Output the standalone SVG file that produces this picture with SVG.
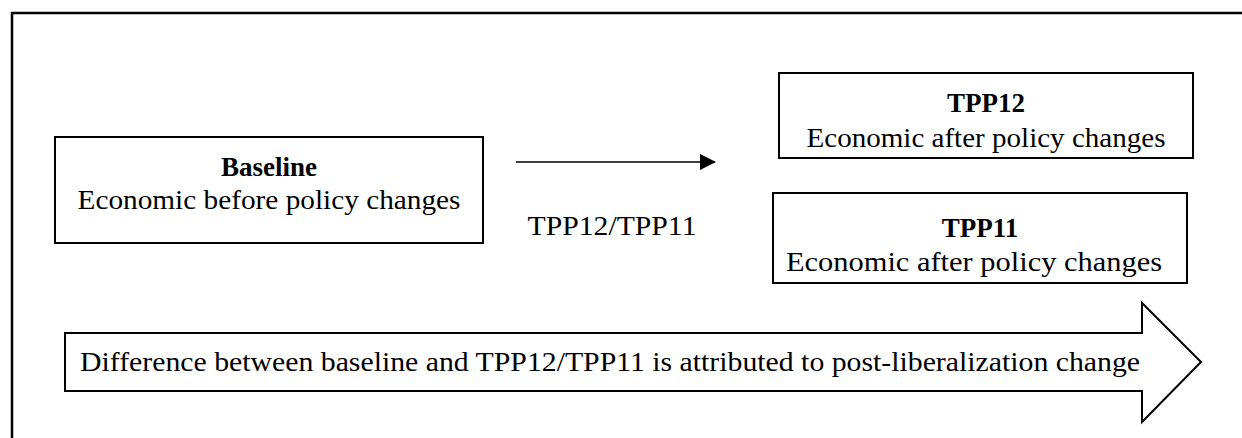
<svg xmlns="http://www.w3.org/2000/svg" width="1242" height="438" viewBox="0 0 1242 438">
<style>
.box{fill:#fff;stroke:#000;stroke-width:2}
.t{font-family:'Liberation Serif','DejaVu Serif',serif;font-size:27px;fill:#000;text-anchor:middle}
.b{font-weight:bold}
</style>
<defs>
<marker id="ah" markerWidth="16" markerHeight="16" refX="15" refY="8" orient="auto" markerUnits="userSpaceOnUse">
<path d="M0,0 L16,8 L0,16 Z" fill="#000"/>
</marker>
<clipPath id="c12"><rect x="780" y="74" width="412" height="79"/></clipPath>
</defs>
<rect width="1242" height="438" fill="#fff"/>
<path d="M12,438 V13 H1242" fill="none" stroke="#000" stroke-width="2.5"/>
<g id="baseline">
<rect class="box" x="55" y="137" width="428" height="106"/>
<text class="t b" x="269" y="176" font-family="Liberation Serif">Baseline</text>
<text class="t" x="269" y="209" font-family="Liberation Serif" textLength="383" lengthAdjust="spacingAndGlyphs">Economic before policy changes</text>
</g>
<g id="tpp12">
<rect class="box" x="779" y="73" width="414" height="85"/>
<g clip-path="url(#c12)">
<text class="t b" x="986" y="112" font-family="Liberation Serif">TPP12</text>
<text class="t" x="986" y="147" font-family="Liberation Serif" textLength="359" lengthAdjust="spacingAndGlyphs">Economic after policy changes</text>
</g>
</g>
<g id="tpp11">
<rect class="box" x="773" y="193" width="414" height="90"/>
<text class="t b" x="980" y="237" font-family="Liberation Serif">TPP11</text>
<text class="t" x="974" y="271" font-family="Liberation Serif" textLength="376" lengthAdjust="spacingAndGlyphs">Economic after policy changes</text>
</g>
<g id="connectors">
<line x1="516" y1="162" x2="715" y2="162" stroke="#000" stroke-width="1.5" marker-end="url(#ah)"/>
<text class="t" x="612" y="235" font-family="Liberation Serif" textLength="169" lengthAdjust="spacingAndGlyphs">TPP12/TPP11</text>
</g>
<g id="difference">
<path class="box" d="M65,333 H1142 V303 L1201,362 L1142,422 V391 H65 Z"/>
<text class="t" x="610" y="371" font-family="Liberation Serif" textLength="1060" lengthAdjust="spacingAndGlyphs">Difference between baseline and TPP12/TPP11 is attributed to post-liberalization change</text>
</g>
</svg>
